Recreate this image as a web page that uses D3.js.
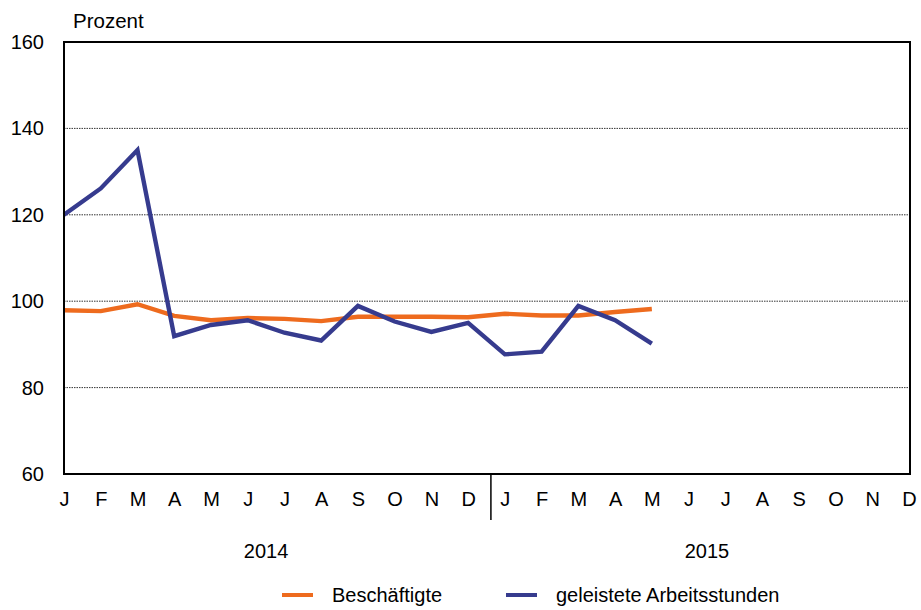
<!DOCTYPE html>
<html><head><meta charset="utf-8">
<script src="https://cdn.jsdelivr.net/npm/d3@7"></script>
<style>body{margin:0;background:#fff}svg{display:block}text{font-family:"Liberation Sans",Arial,sans-serif;fill:#000}</style>
</head><body>
<svg id="c" width="921" height="610"></svg>
<script>
const months = ["J","F","M","A","M","J","J","A","S","O","N","D","J","F","M","A","M","J","J","A","S","O","N","D"];
const years = ["2014","2015"];
const yTicks = [60,80,100,120,140,160];
const beschaeftigte = [97.9,97.7,99.3,96.6,95.6,96.1,95.9,95.4,96.4,96.4,96.4,96.3,97.1,96.7,96.7,97.5,98.2];
const arbeitsstunden = [120,126.1,135,91.9,94.5,95.6,92.7,90.9,98.9,95.3,92.9,95.0,87.7,88.3,98.9,95.6,90.2];
const seriesNames = ["Beschäftigte","geleistete Arbeitsstunden"];
const colors = ["#EE6B1E","#363B8E"];

const FS = "20px";
const svg = d3.select("#c");
const L=64, R=910, T=42, B=474;
const x = d3.scalePoint().domain(d3.range(months.length)).range([L, 909]);
const y = d3.scaleLinear().domain([60,160]).range([B, T]);

// grid
svg.append("g").selectAll("line").data(yTicks.filter(v=>v>60&&v<160)).join("line")
  .attr("x1",L).attr("x2",R).attr("y1",d=>y(d)).attr("y2",d=>y(d))
  .attr("stroke","#333").attr("stroke-width",1).attr("stroke-dasharray","1.5,1");

// y labels
const ya = d3.axisLeft(y).tickValues(yTicks).tickSize(0).tickPadding(20);
const gy = svg.append("g").attr("transform",`translate(${L},0)`).call(ya);
gy.select(".domain").remove();
gy.selectAll("text").style("font-size",FS).style("font-family","Liberation Sans, Arial, sans-serif").attr("fill","#000");

svg.append("text").attr("x",73).attr("y",27.5).style("font-size","20.5px").text("Prozent");

// x labels
const xa = d3.axisBottom(x).tickFormat(i=>months[i]).tickSize(0).tickPadding(18);
const gx = svg.append("g").attr("transform",`translate(0,${B})`).call(xa);
gx.select(".domain").remove();
gx.selectAll("text").style("font-size",FS).style("font-family","Liberation Sans, Arial, sans-serif").attr("fill","#000");

// year divider
const divX = x(11) + 0.62*x.step();
svg.append("line").attr("x1",divX).attr("x2",divX).attr("y1",B).attr("y2",520).attr("stroke","#000").attr("stroke-width",1.5);
svg.selectAll(".yr").data(years).join("text").attr("class","yr")
  .attr("x",(d,i)=> (x(i*12)+x(i*12+11))/2)
  .attr("y",558).attr("text-anchor","middle").style("font-size",FS).text(d=>d);

// lines
const line = d3.line().x((d,i)=>x(i)).y(d=>y(d));
[beschaeftigte, arbeitsstunden].forEach((s,k)=>{
  svg.append("path").attr("d",line(s)).attr("fill","none").attr("stroke",colors[k])
    .attr("stroke-width",4.4).attr("stroke-linejoin","miter");
});

// frame
svg.append("rect").attr("x",L).attr("y",T).attr("width",R-L).attr("height",B-T)
  .attr("fill","none").attr("stroke","#000").attr("stroke-width",2);

// legend
const lg = [{x:282,tx:332},{x:506,tx:556}];
seriesNames.forEach((n,k)=>{
  svg.append("line").attr("x1",lg[k].x).attr("x2",lg[k].x+31).attr("y1",595).attr("y2",595)
    .attr("stroke",colors[k]).attr("stroke-width",4);
  svg.append("text").attr("x",lg[k].tx).attr("y",601.5).style("font-size",FS).text(n);
});
</script>
</body></html>
